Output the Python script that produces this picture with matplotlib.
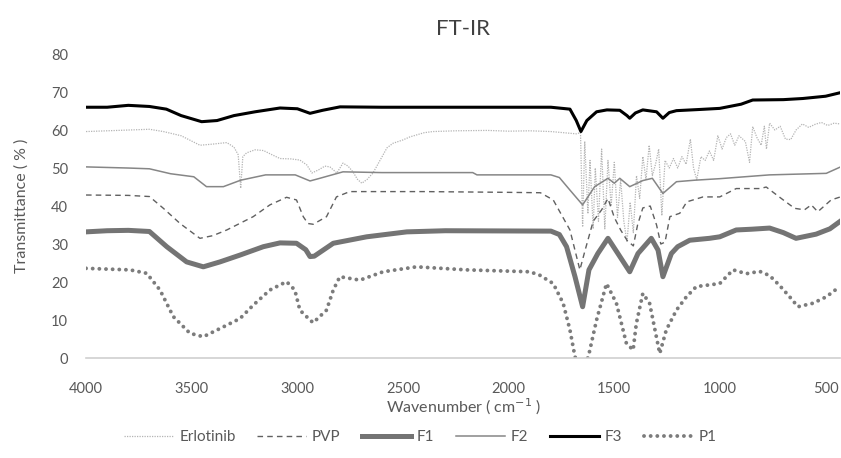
import matplotlib
matplotlib.use("Agg")
import matplotlib.pyplot as plt

plt.rcParams['font.family'] = ['Lato', 'DejaVu Sans']

# spectra (wavenumber cm-1, transmittance %)
erlotinib_wn = [4000, 3900, 3800, 3700, 3634, 3550, 3461, 3400, 3334, 3300, 3280, 3268, 3258, 3240,
                3200, 3160, 3120, 3082, 3030, 2988, 2955, 2931, 2900, 2870, 2846, 2813, 2784, 2760,
                2737, 2715, 2695, 2670, 2642, 2609, 2576, 2548, 2500, 2467, 2400, 2359, 2250, 2100,
                2000, 1900, 1800, 1720, 1680, 1660, 1650, 1640, 1625, 1615, 1600, 1590, 1575, 1560,
                1545, 1530, 1515, 1500, 1485, 1470, 1455, 1440, 1425, 1410, 1395, 1380, 1365, 1350,
                1335, 1320, 1305, 1290, 1275, 1260, 1240, 1220, 1200, 1180, 1160, 1140, 1125, 1110,
                1090, 1070, 1050, 1030, 1010, 990, 970, 950, 930, 910, 880, 860, 845, 825, 805, 790,
                780, 765, 740, 715, 690, 665, 640, 610, 580, 550, 520, 490, 460, 430]
erlotinib_t = [59.6, 59.8, 60.0, 60.2, 59.6, 58.5, 56.0, 56.3, 56.7, 55.5, 53.5, 44.7, 53.0, 54.0,
               54.8, 54.6, 53.5, 52.5, 52.4, 52.1, 50.8, 48.7, 49.5, 50.5, 50.3, 48.7, 51.3, 50.5,
               49.0, 47.0, 46.0, 47.0, 48.7, 52.0, 55.3, 56.5, 57.4, 58.2, 59.3, 59.6, 59.8, 59.9,
               59.7, 59.8, 59.6, 59.2, 59.0, 59.3, 34.5, 57.0, 38.0, 52.0, 34.0, 50.0, 36.0, 55.0,
               34.0, 52.0, 40.0, 51.5, 37.0, 47.0, 36.0, 30.5, 41.0, 33.0, 48.0, 42.0, 53.0, 47.0,
               56.0, 48.0, 51.0, 55.0, 37.5, 52.0, 50.0, 52.5, 50.0, 53.0, 51.0, 57.6, 50.0, 46.9,
               53.0, 52.0, 54.5, 52.0, 58.5, 55.0, 58.0, 59.0, 56.0, 58.5, 57.0, 51.5, 60.9, 58.0,
               56.0, 61.0, 55.0, 61.8, 60.0, 61.0, 57.6, 57.5, 60.0, 61.6, 60.7, 61.5, 62.0, 61.2,
               61.8, 61.6]

pvp_wn = [4000, 3800, 3700, 3634, 3555, 3461, 3400, 3334, 3209, 3130, 3051, 3004, 2972, 2950,
          2925, 2862, 2815, 2752, 2400, 2000, 1850, 1789, 1710, 1663, 1640, 1600, 1560, 1530,
          1500, 1470, 1440, 1410, 1390, 1365, 1330, 1300, 1280, 1260, 1237, 1190, 1157, 1080,
          1001, 923, 810, 781, 710, 647, 600, 568, 537, 474, 430]
pvp_t = [42.9, 42.8, 42.5, 39.4, 35.4, 31.5, 32.2, 33.7, 37.2, 40.3, 42.3, 41.6, 37.2, 35.4,
         35.2, 37.2, 42.4, 43.8, 43.8, 43.6, 43.5, 41.6, 33.7, 23.2, 28.0, 36.0, 39.0, 42.0,
         37.0, 33.7, 31.0, 29.5, 35.0, 39.5, 40.0, 35.0, 30.0, 30.5, 37.2, 38.1, 41.1, 42.4,
         42.4, 44.6, 44.6, 45.0, 42.0, 39.4, 39.0, 40.3, 38.5, 41.6, 42.4]

f1_wn = [4000, 3900, 3800, 3700, 3618, 3524, 3445, 3366, 3271, 3161, 3082, 3004, 2960, 2940,
         2920, 2830, 2672, 2482, 2300, 1800, 1760, 1726, 1686, 1650, 1620, 1578, 1530, 1483,
         1427, 1388, 1325, 1293, 1270, 1230, 1200, 1143, 1050, 1001, 923, 850, 765, 700, 640,
         545, 480, 433]
f1_t = [33.2, 33.5, 33.6, 33.3, 29.3, 25.3, 24.0, 25.3, 27.1, 29.3, 30.3, 30.2, 28.5, 26.7,
        26.8, 30.2, 31.9, 33.2, 33.5, 33.4, 32.5, 29.3, 21.4, 13.5, 23.2, 27.5, 31.5, 27.5,
        22.7, 27.5, 31.5, 28.4, 21.4, 27.5, 29.3, 31.0, 31.5, 31.9, 33.7, 33.9, 34.2, 33.0,
        31.5, 32.6, 34.0, 35.9]

f2_wn = [4000, 3800, 3700, 3600, 3490, 3430, 3350, 3268, 3150, 3010, 2940, 2900, 2784, 2600,
         2170, 2150, 1800, 1760, 1710, 1650, 1593, 1530, 1500, 1474, 1427, 1365, 1320, 1270,
         1206, 1119, 1001, 765, 497, 433]
f2_t = [50.3, 50.0, 49.8, 48.5, 47.7, 45.1, 45.1, 46.8, 48.2, 48.2, 46.6, 47.2, 49.0, 48.8,
        48.8, 48.2, 48.2, 47.5, 44.2, 40.3, 45.1, 47.3, 46.0, 47.3, 45.1, 46.7, 47.3, 43.3,
        46.4, 46.8, 47.2, 48.2, 48.6, 50.2]

f3_wn = [4000, 3900, 3800, 3700, 3620, 3550, 3453, 3380, 3300, 3200, 3082, 3000, 2940, 2880,
         2798, 2600, 2200, 1800, 1710, 1680, 1658, 1630, 1584, 1535, 1474, 1440, 1427, 1400,
         1365, 1300, 1270, 1240, 1206, 1100, 1001, 900, 845, 700, 608, 500, 433]
f3_t = [66.0, 66.0, 66.5, 66.2, 65.5, 63.8, 62.2, 62.5, 63.8, 64.8, 65.8, 65.6, 64.4, 65.2,
        66.1, 66.0, 66.0, 66.0, 65.5, 62.5, 59.6, 62.5, 64.8, 65.3, 65.2, 63.8, 63.1, 64.5,
        65.3, 64.8, 63.1, 64.6, 65.1, 65.4, 65.7, 66.8, 67.9, 68.0, 68.3, 68.9, 69.8]

p1_wn = [4000, 3900, 3792, 3713, 3650, 3587, 3508, 3445, 3350, 3271, 3209, 3130, 3051, 3012,
         2988, 2940, 2925, 2862, 2830, 2799, 2704, 2594, 2436, 2200, 1900, 1853, 1789, 1742,
         1710, 1686, 1655, 1623, 1584, 1537, 1490, 1443, 1411, 1396, 1365, 1333, 1285, 1254,
         1206, 1159, 1112, 1001, 938, 875, 812, 765, 718, 670, 631, 561, 497, 433]
p1_t = [23.6, 23.4, 23.2, 22.3, 17.9, 10.9, 6.5, 5.6, 8.2, 10.4, 13.9, 17.9, 20.1, 17.9,
        12.6, 10.0, 9.3, 12.6, 17.9, 21.4, 20.5, 22.7, 24.0, 23.2, 22.7, 21.8, 19.6, 14.4,
        7.4, 0.3, -3.0, 0.3, 10.0, 19.6, 14.4, 3.9, 2.1, 9.0, 17.0, 14.4, 1.2, 7.4,
        12.6, 16.1, 18.8, 19.6, 23.2, 22.2, 22.8, 21.7, 19.1, 16.1, 13.5, 14.4, 16.1, 18.8]

y_ticks = [0, 10, 20, 30, 40, 50, 60, 70, 80]
x_ticks = [4000, 3500, 3000, 2500, 2000, 1500, 1000, 500]

text_col = "#595959"

fig = plt.figure(figsize=(8.41, 4.58), dpi=100)
ax = fig.add_axes([0.1023, 0.2183, 0.897, 0.6637])

ax.plot(erlotinib_wn, erlotinib_t, color="#b4b4b4", lw=0.9, linestyle=(0, (1, 1)), label="Erlotinib")
ax.plot(pvp_wn, pvp_t, color="#606060", lw=1.0, linestyle=(0, (4, 3)), label="PVP")
ax.plot(f1_wn, f1_t, color="#747474", lw=3.6, solid_joinstyle="round", label="F1")
ax.plot(f2_wn, f2_t, color="#868686", lw=1.1, label="F2")
ax.plot(f3_wn, f3_t, color="#000000", lw=2.2, label="F3")
ax.plot(p1_wn, p1_t, color="#7c7c7c", lw=2.8, linestyle=(0, (0.01, 1.7)),
        dash_capstyle="round", label="P1")

ax.set_xlim(4000, 430)
ax.set_ylim(0, 80)
ax.set_xticks(x_ticks)
ax.set_yticks(y_ticks)
ax.tick_params(length=0, labelsize=10.5, colors=text_col)
ax.tick_params(axis="x", pad=17)
ax.tick_params(axis="y", pad=13)

for s in ["top", "right", "left"]:
    ax.spines[s].set_visible(False)
ax.spines["bottom"].set_color("#d0d0d0")
ax.spines["bottom"].set_linewidth(1.2)

ax.set_title("FT-IR", fontsize=16, color="#404040", pad=14)
ax.set_ylabel("Transmittance ( % )", fontsize=11.5, color=text_col, labelpad=16)
ax.set_xlabel("Wavenumber ( cm$^{-1}$ )", fontsize=11.5, color=text_col, labelpad=1)

leg = fig.legend(loc="center", bbox_to_anchor=(0.5, 0.046), ncol=6, frameon=False,
                 fontsize=11, handlelength=3.2, columnspacing=1.4, handletextpad=0.4)
for t in leg.get_texts():
    t.set_color(text_col)

fig.savefig("out.png", dpi=100)
